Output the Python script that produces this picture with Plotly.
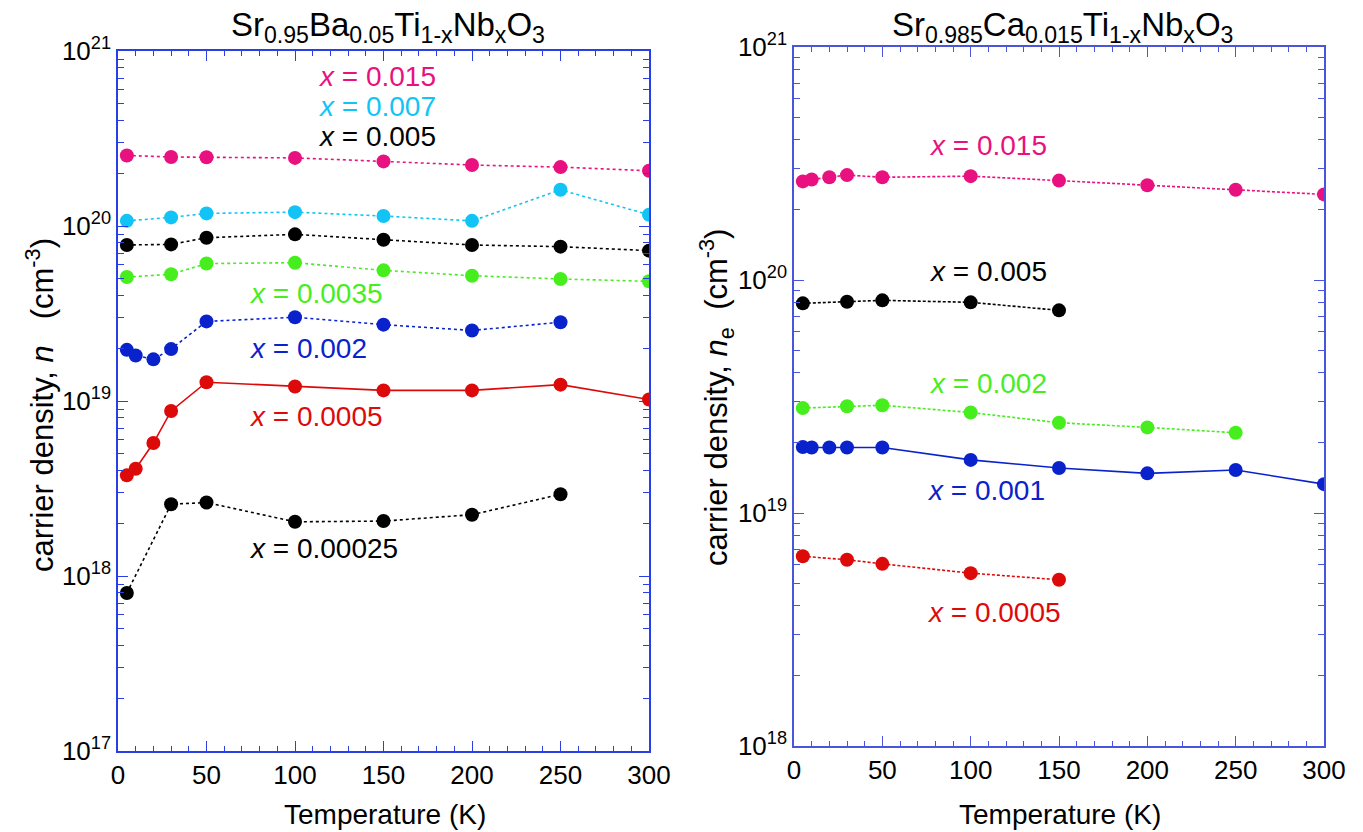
import plotly.graph_objects as go
from plotly.subplots import make_subplots

# ---------------- data: left panel (Sr0.95Ba0.05Ti1-xNbxO3) ----------------
T_full = [5, 30, 50, 100, 150, 200, 250, 300]
L_x015 = [2.53e20, 2.48e20, 2.47e20, 2.45e20, 2.34e20, 2.23e20, 2.17e20, 2.07e20]
L_x007 = [1.07e20, 1.12e20, 1.18e20, 1.20e20, 1.14e20, 1.07e20, 1.61e20, 1.16e20]
L_x005 = [7.79e19, 7.85e19, 8.57e19, 8.96e19, 8.35e19, 7.79e19, 7.62e19, 7.23e19]
L_x0035 = [5.11e19, 5.30e19, 6.10e19, 6.17e19, 5.58e19, 5.20e19, 4.98e19, 4.83e19]
T_L_x002 = [5, 10, 20, 30, 50, 100, 150, 200, 250]
L_x002 = [1.96e19, 1.82e19, 1.73e19, 1.98e19, 2.85e19, 3.01e19, 2.73e19, 2.53e19, 2.82e19]
T_L_x0005 = [5, 10, 20, 30, 50, 100, 150, 200, 250, 300]
L_x0005 = [3.76e18, 4.10e18, 5.75e18, 8.77e18, 1.28e19, 1.21e19, 1.15e19, 1.15e19, 1.24e19, 1.02e19]
T_L_x00025 = [5, 30, 50, 100, 150, 200, 250]
L_x00025 = [8.0e17, 2.57e18, 2.63e18, 2.04e18, 2.06e18, 2.24e18, 2.93e18]

# ---------------- data: right panel (Sr0.985Ca0.015Ti1-xNbxO3) ----------------
T_R_x015 = [5, 10, 20, 30, 50, 100, 150, 200, 250, 300]
R_x015 = [2.65e20, 2.70e20, 2.76e20, 2.82e20, 2.76e20, 2.79e20, 2.67e20, 2.55e20, 2.44e20, 2.33e20]
T_R_x005 = [5, 30, 50, 100, 150]
R_x005 = [7.94e19, 8.07e19, 8.18e19, 8.02e19, 7.41e19]
T_R_x002 = [5, 30, 50, 100, 150, 200, 250]
R_x002 = [2.82e19, 2.87e19, 2.90e19, 2.70e19, 2.44e19, 2.33e19, 2.21e19]
T_R_x001 = [5, 10, 20, 30, 50, 100, 150, 200, 250, 300]
R_x001 = [1.92e19, 1.91e19, 1.91e19, 1.91e19, 1.91e19, 1.69e19, 1.56e19, 1.48e19, 1.53e19, 1.33e19]
T_R_x0005 = [5, 30, 50, 100, 150]
R_x0005 = [6.52e18, 6.30e18, 6.05e18, 5.52e18, 5.17e18]

# tick labels
x_ticks = [0, 50, 100, 150, 200, 250, 300]
y_ticks_left = [1e17, 1e18, 1e19, 1e20, 1e21]
y_ticktext_left = ["10<sup>17</sup>", "10<sup>18</sup>", "10<sup>19</sup>", "10<sup>20</sup>", "10<sup>21</sup>"]
y_ticks_right = [1e18, 1e19, 1e20, 1e21]
y_ticktext_right = ["10<sup>18</sup>", "10<sup>19</sup>", "10<sup>20</sup>", "10<sup>21</sup>"]

# colours
MAGENTA = "#E8117F"
CYAN = "#12C4F5"
BLACK = "#000000"
GREEN = "#47EE1E"
BLUE = "#0A22CC"
RED = "#DD0A0A"
FRAME_L = "#2A3EE6"
FRAME_R = "#4A55DD"
FONT = "Liberation Sans"
NB = "\u00a0"

fig = make_subplots(rows=1, cols=2)

def add(x, y, color, dash, col):
    fig.add_trace(go.Scatter(
        x=x, y=y, mode="lines+markers",
        line=dict(color=color, width=1.6, dash=dash),
        marker=dict(color=color, size=14, symbol="circle"),
        showlegend=False, hoverinfo="x+y"), row=1, col=col)

add(T_full, L_x015, MAGENTA, "dot", 1)
add(T_full, L_x007, CYAN, "dot", 1)
add(T_full, L_x005, BLACK, "dot", 1)
add(T_full, L_x0035, GREEN, "dot", 1)
add(T_L_x002, L_x002, BLUE, "dot", 1)
add(T_L_x0005, L_x0005, RED, "solid", 1)
add(T_L_x00025, L_x00025, BLACK, "dot", 1)

add(T_R_x015, R_x015, MAGENTA, "3px,2px", 2)
add(T_R_x005, R_x005, BLACK, "3px,2px", 2)
add(T_R_x002, R_x002, GREEN, "3px,2px", 2)
add(T_R_x001, R_x001, BLUE, "solid", 2)
add(T_R_x0005, R_x0005, RED, "3px,2px", 2)

tickfont = dict(family=FONT, size=26, color="black")

def xaxis_cfg(domain, frame):
    return dict(domain=domain, range=[0, 300], tickvals=x_ticks, ticks="inside", ticklen=10,
                tickwidth=1, tickcolor=frame, showline=True, linecolor=frame, linewidth=1.5,
                mirror="ticks", showgrid=False, zeroline=False, tickfont=tickfont, automargin=False,
                minor=dict(ticks="inside", ticklen=5, dtick=10, tickcolor=frame, showgrid=False))

def yaxis_cfg(domain, frame, rng, tv, tt):
    return dict(domain=domain, type="log", range=rng, tickvals=tv, ticktext=tt, ticks="inside",
                ticklen=10, tickwidth=1, tickcolor=frame, showline=True, linecolor=frame,
                linewidth=1.5, mirror="ticks", showgrid=False, zeroline=False, tickfont=tickfont,
                automargin=False,
                minor=dict(ticks="inside", ticklen=6, dtick="D1", tickcolor=frame, showgrid=False))

fig.update_layout(
    template="none",
    width=1363, height=832,
    margin=dict(l=0, r=0, t=0, b=0, autoexpand=False),
    paper_bgcolor="white", plot_bgcolor="white",
    font=dict(family=FONT, color="black"),
    xaxis=xaxis_cfg([118/1363, 649/1363], FRAME_L),
    xaxis2=xaxis_cfg([794/1363, 1324/1363], FRAME_R),
    yaxis=yaxis_cfg([(832-751)/832, (832-51)/832], FRAME_L, [17, 21], y_ticks_left, y_ticktext_left),
    yaxis2=yaxis_cfg([(832-746)/832, (832-47)/832], FRAME_R, [18, 21], y_ticks_right, y_ticktext_right),
)

# series labels (x position in K, y in log10 units)
labels_left = [
    ("<i>x</i> = 0.015", MAGENTA, 112, 20.855),
    ("<i>x</i> = 0.007", CYAN, 112, 20.684),
    ("<i>x</i> = 0.005", BLACK, 112, 20.509),
    ("<i>x</i> = 0.0035", GREEN, 73, 19.613),
    ("<i>x</i> = 0.002", BLUE, 73, 19.299),
    ("<i>x</i> = 0.0005", RED, 73, 18.909),
    ("<i>x</i> = 0.00025", BLACK, 73, 18.156),
]
labels_right = [
    ("<i>x</i> = 0.015", MAGENTA, 75, 20.577),
    ("<i>x</i> = 0.005", BLACK, 75, 20.037),
    ("<i>x</i> = 0.002", GREEN, 75, 19.556),
    ("<i>x</i> = 0.001", BLUE, 74, 19.095),
    ("<i>x</i> = 0.0005", RED, 74, 18.572),
]
LBL = 28
for txt, c, xx, yy in labels_left:
    fig.add_annotation(text=txt, x=xx, y=yy, xref="x", yref="y", xanchor="left", yanchor="middle",
                       showarrow=False, font=dict(family=FONT, size=LBL, color=c))
for txt, c, xx, yy in labels_right:
    fig.add_annotation(text=txt, x=xx, y=yy, xref="x2", yref="y2", xanchor="left", yanchor="middle",
                       showarrow=False, font=dict(family=FONT, size=LBL, color=c))

# panel titles
fig.add_annotation(text="Sr<sub>0.95</sub>Ba<sub>0.05</sub>Ti<sub>1-x</sub>Nb<sub>x</sub>O<sub>3</sub>",
                   x=388/1363, y=(832-27)/832, xref="paper", yref="paper", showarrow=False,
                   xanchor="center", yanchor="middle", font=dict(family=FONT, size=33))
fig.add_annotation(text="Sr<sub>0.985</sub>Ca<sub>0.015</sub>Ti<sub>1-x</sub>Nb<sub>x</sub>O<sub>3</sub>",
                   x=1062/1363, y=(832-27)/832, xref="paper", yref="paper", showarrow=False,
                   xanchor="center", yanchor="middle", font=dict(family=FONT, size=33))

# axis titles
AX = 28
AXY = 31
for xc in (385, 1060):
    fig.add_annotation(text="Temperature (K)", x=xc/1363, y=(832-814)/832, xref="paper", yref="paper",
                       showarrow=False, xanchor="center", yanchor="middle", font=dict(family=FONT, size=AX))
fig.add_annotation(text="carrier density, <i>n</i>" + NB * 3 + "(cm<sup>-3</sup>)", x=40/1363, y=(832-405)/832,
                   xref="paper", yref="paper", showarrow=False, textangle=-90,
                   xanchor="center", yanchor="middle", font=dict(family=FONT, size=AXY))
fig.add_annotation(text="carrier density, <i>n</i><sub>e</sub>" + NB * 2 + "(cm<sup>-3</sup>)", x=716/1363,
                   y=(832-398)/832, xref="paper", yref="paper", showarrow=False, textangle=-90,
                   xanchor="center", yanchor="middle", font=dict(family=FONT, size=AXY))

fig.write_html("out.html", config={"displayModeBar": False},
               post_script="document.body.style.margin='0';document.body.style.overflow='hidden';")
